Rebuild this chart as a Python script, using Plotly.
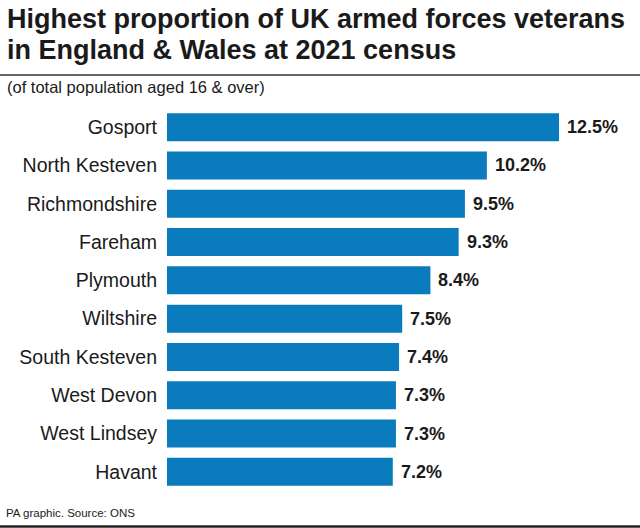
import plotly.graph_objects as go

categories = ["Gosport", "North Kesteven", "Richmondshire", "Fareham", "Plymouth",
              "Wiltshire", "South Kesteven", "West Devon", "West Lindsey", "Havant"]
values = [12.5, 10.2, 9.5, 9.3, 8.4, 7.5, 7.4, 7.3, 7.3, 7.2]
value_labels = ["12.5%", "10.2%", "9.5%", "9.3%", "8.4%", "7.5%", "7.4%", "7.3%", "7.3%", "7.2%"]

title_lines = ["Highest proportion of UK armed forces veterans",
               "in England & Wales at 2021 census"]
subtitle = "(of total population aged 16 & over)"
footer = "PA graphic. Source: ONS"

W, H = 640, 528
ML, MR, MT, MB = 167, 0, 108, 37
PW, PH = W - ML - MR, H - MT - MB
PX_PER_UNIT = 31.36

def px(x):
    return (x - ML) / PW

def py(y):
    return (H - MB - y) / PH

BAR = "#0a7bbd"
TXT = "#1a1a1a"
FONT = "Liberation Sans"

fig = go.Figure(go.Bar(
    x=values, y=categories, orientation="h",
    marker=dict(color=BAR, line=dict(width=0)),
    width=0.73,
    hoverinfo="skip",
))

annotations = []
for c, v, lab in zip(categories, values, value_labels):
    annotations.append(dict(x=v, y=c, xref="x", yref="y", text=lab, showarrow=False,
                            xanchor="left", xshift=6,
                            font=dict(family=FONT, size=18, color=TXT, weight=600)))

annotations += [
    dict(x=px(5), y=py(2), xref="paper", yref="paper", text=title_lines[0], showarrow=False,
         xanchor="left", yanchor="top", font=dict(family=FONT, size=27, color=TXT, weight=600)),
    dict(x=px(5), y=py(33), xref="paper", yref="paper", text=title_lines[1], showarrow=False,
         xanchor="left", yanchor="top", font=dict(family=FONT, size=27, color=TXT, weight=600)),
    dict(x=px(5), y=py(76), xref="paper", yref="paper", text=subtitle, showarrow=False,
         xanchor="left", yanchor="top", font=dict(family=FONT, size=16.5, color=TXT)),
    dict(x=px(4), y=py(505), xref="paper", yref="paper", text=footer, showarrow=False,
         xanchor="left", yanchor="top", font=dict(family=FONT, size=11.5, color=TXT)),
]

shapes = [
    dict(type="line", xref="paper", yref="paper", x0=px(0), x1=px(W), y0=py(75), y1=py(75),
         line=dict(color="#333333", width=1.5)),
    dict(type="line", xref="paper", yref="paper", x0=px(0), x1=px(W), y0=py(526.5), y1=py(526.5),
         line=dict(color="#222222", width=2.5)),
]

fig.update_layout(
    width=W, height=H,
    margin=dict(l=ML, r=MR, t=MT, b=MB, autoexpand=False),
    paper_bgcolor="white", plot_bgcolor="white",
    showlegend=False,
    annotations=annotations,
    shapes=shapes,
    xaxis=dict(range=[0, PW / PX_PER_UNIT], visible=False, fixedrange=True),
    yaxis=dict(autorange="reversed", showgrid=False, zeroline=False, showline=False,
               ticks="", ticklabelstandoff=9, automargin=False,
               tickfont=dict(family=FONT, size=19.5, color=TXT), fixedrange=True),
    bargap=0.27,
)

fig.write_html("out.html", config={"displayModeBar": False},
               post_script="document.body.style.margin='0';")
